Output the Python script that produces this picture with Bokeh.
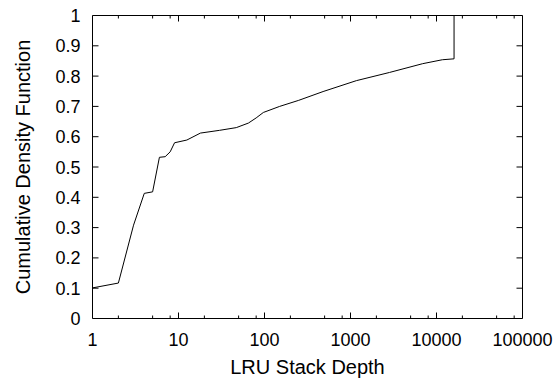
import math
from bokeh.plotting import figure
from bokeh.models import FixedTicker, CustomJSTickFormatter
from bokeh.embed import file_html
from bokeh.resources import INLINE

# Data (LRU stack depth CDF)
depth = [1, 2, 3, 4, 5, 6, 7, 8, 9, 12.5, 18, 30, 47, 65, 80, 97, 150, 250, 480,
         1170, 2840, 6900, 11700, 16000, 16000]
cdf = [0.101, 0.117, 0.308, 0.413, 0.418, 0.532, 0.534, 0.550, 0.580, 0.589,
       0.612, 0.621, 0.630, 0.645, 0.662, 0.680, 0.700, 0.720, 0.749,
       0.785, 0.812, 0.841, 0.854, 0.857, 1.0]

x_ticks = [1, 10, 100, 1000, 10000, 100000]
x_tick_labels = ["1", "10", "100", "1000", "10000", "100000"]
x_minor = [2, 5, 8, 20, 50, 80, 200, 500, 800, 2000, 5000, 8000, 20000, 50000, 80000]
y_ticks = [0, 0.1, 0.2, 0.3, 0.4, 0.5, 0.6, 0.7, 0.8, 0.9, 1]
y_tick_labels = ["0", "0.1", "0.2", "0.3", "0.4", "0.5", "0.6", "0.7", "0.8", "0.9", "1"]

X_MIN, X_MAX = 1, 100000
Y_MIN, Y_MAX = 0, 1

FONT = "Liberation Sans"

LOOKUP = """
let best = 0, bd = Infinity;
for (let i = 0; i < tvals.length; i++) {
  const d = Math.abs(tvals[i] - tick);
  if (d < bd) { bd = d; best = i; }
}
return tlabels[best];
"""

p = figure(width=557, height=381, x_axis_type="log", x_range=(X_MIN, X_MAX), y_range=(Y_MIN, Y_MAX),
           output_backend="svg", toolbar_location=None,
           min_border_left=92, min_border_right=35, min_border_top=15, min_border_bottom=63)
p.outline_line_color = "black"
p.outline_line_width = 1
p.xgrid.grid_line_color = None
p.ygrid.grid_line_color = None

p.line(depth, cdf, line_color="black", line_width=1)

# mirrored inward tick marks on all four sides (screen-length rays)
MAJ, MIN = 6, 3
p.ray(x=x_ticks, y=[Y_MIN] * len(x_ticks), length=MAJ, angle=math.pi / 2,
      length_units="screen", line_color="black", line_width=1)
p.ray(x=x_ticks, y=[Y_MAX] * len(x_ticks), length=MAJ, angle=-math.pi / 2,
      length_units="screen", line_color="black", line_width=1)
p.ray(x=x_minor, y=[Y_MIN] * len(x_minor), length=MIN, angle=math.pi / 2,
      length_units="screen", line_color="black", line_width=1)
p.ray(x=x_minor, y=[Y_MAX] * len(x_minor), length=MIN, angle=-math.pi / 2,
      length_units="screen", line_color="black", line_width=1)
p.ray(x=[X_MIN] * len(y_ticks), y=y_ticks, length=MAJ, angle=0,
      length_units="screen", line_color="black", line_width=1)
p.ray(x=[X_MAX] * len(y_ticks), y=y_ticks, length=MAJ, angle=math.pi,
      length_units="screen", line_color="black", line_width=1)

def style(ax):
    ax.axis_line_color = None
    ax.major_tick_in = 0
    ax.major_tick_out = 0
    ax.minor_tick_in = 0
    ax.minor_tick_out = 0
    ax.major_tick_line_color = None
    ax.minor_tick_line_color = None
    ax.major_label_text_font = FONT
    ax.major_label_text_color = "black"
    ax.major_label_text_font_size = "18px"
    ax.axis_label_text_font = FONT
    ax.axis_label_text_font_style = "normal"
    ax.axis_label_text_color = "black"
    ax.axis_label_text_font_size = "20px"

xb = p.xaxis[0]
xb.ticker = FixedTicker(ticks=x_ticks, minor_ticks=x_minor)
xb.formatter = CustomJSTickFormatter(args=dict(tvals=x_ticks, tlabels=x_tick_labels), code=LOOKUP)
xb.axis_label = "LRU Stack Depth"
style(xb)
xb.major_label_standoff = 14
xb.axis_label_standoff = 7

yl = p.yaxis[0]
yl.ticker = FixedTicker(ticks=y_ticks, minor_ticks=[])
yl.formatter = CustomJSTickFormatter(args=dict(tvals=y_ticks, tlabels=y_tick_labels), code=LOOKUP)
yl.axis_label = "Cumulative Density Function"
style(yl)
yl.major_label_standoff = 12
yl.axis_label_standoff = 18

open("out.html", "w").write(file_html(p, INLINE))
